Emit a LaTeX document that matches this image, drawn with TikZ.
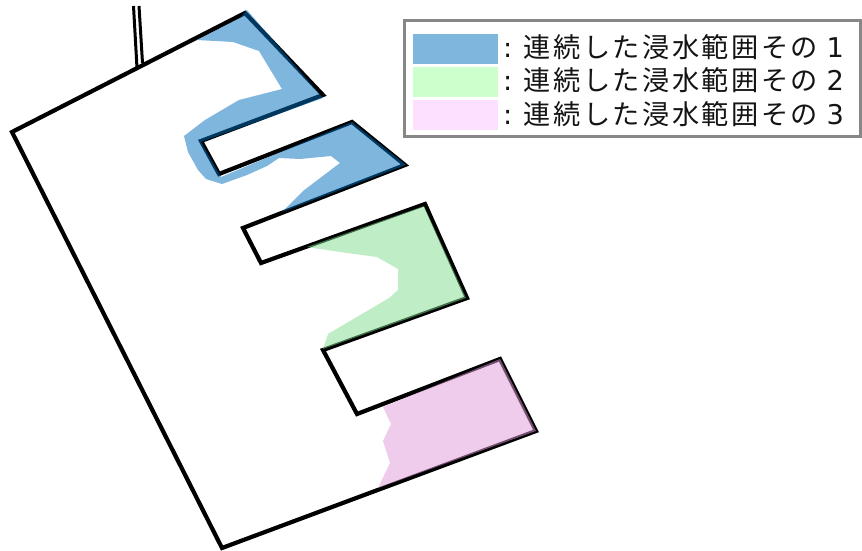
\documentclass[tikz,border=0pt]{standalone}
\usepackage{fontspec}
\setmainfont{DejaVu Sans}
\newfontfamily\cjk[LetterSpace=9]{Noto Sans CJK JP}
\definecolor{lblue}{HTML}{7FB6DE}
\definecolor{lgreen}{HTML}{CCFFCC}
\definecolor{lpink}{HTML}{FDE0FF}
\definecolor{fblue}{HTML}{006EBE}
\definecolor{fgreen}{HTML}{81DD8D}
\definecolor{fpink}{HTML}{E19BD9}
\tikzset{
  outline/.style={draw=black,line width=4.2pt,line join=miter,miter limit=10},
  pipe/.style={draw=black,line width=3pt},
  floodarea/.style={draw=none,opacity=0.5},
  swatch/.style={draw=none,minimum width=85pt,minimum height=30pt,inner sep=0pt,outer sep=0pt,anchor=north west},
  legendtext/.style={anchor=base west,inner sep=0pt,font=\fontsize{27.2}{27.2}\selectfont,text=black!92}
}
\begin{document}
\begin{tikzpicture}[x=1pt,y=-1pt]
\useasboundingbox (0,0) rectangle (862,551);
\fill[white] (0,0) rectangle (862,551);
% pipe
\draw[pipe] (133.5,6) -- (137,68);
\draw[pipe] (139,6) -- (142.5,63);
% building outline
\draw[outline] (12,132) -- (245,13) -- (323,95) -- (201,141) -- (219,174) -- (352,122) -- (405,165) -- (243,228) -- (261,263) -- (425,204) -- (467,298) -- (323,350) -- (357,414) -- (500,359) -- (536,431) -- (222,548) -- cycle;
% flooded areas
\fill[floodarea,fblue] (197,40) -- (233,42) -- (259,51) -- (282,89) -- (239,100) -- (205,120) -- (184,136) -- (188,152) -- (198,170) -- (206,179) -- (222,184) -- (247,175) -- (267,166) -- (279,158) -- (300,159) -- (331,156) -- (340,163) -- (303,191) -- (282,212) -- (406,165) -- (352,122) -- (221,177) -- (201,142) -- (323,98) -- (247,10) -- (240,18) -- cycle;
\fill[floodarea,fgreen] (307,247) -- (347,253) -- (377,257) -- (398,269) -- (398,290) -- (389,298) -- (328,334) -- (323,349) -- (466,298) -- (424,206) -- cycle;
\fill[floodarea,fpink] (383,407) -- (391,424) -- (383,441) -- (390,463) -- (378,488) -- (536,431) -- (500,359) -- cycle;
% legend
\draw[draw=black!47,line width=3pt,fill=white] (404,21) rectangle (860.5,136);
\node[swatch,fill=lblue] (s1) at (413,34) {};
\node[swatch,fill=lgreen] (s2) at (413,67) {};
\node[swatch,fill=lpink] (s3) at (413,100) {};
\node[legendtext] (t1) at (503,58) {: {\cjk 連続した浸水範囲その} 1};
\node[legendtext] (t2) at (503,91) {: {\cjk 連続した浸水範囲その} 2};
\node[legendtext] (t3) at (503,124) {: {\cjk 連続した浸水範囲その} 3};
\end{tikzpicture}
\end{document}
